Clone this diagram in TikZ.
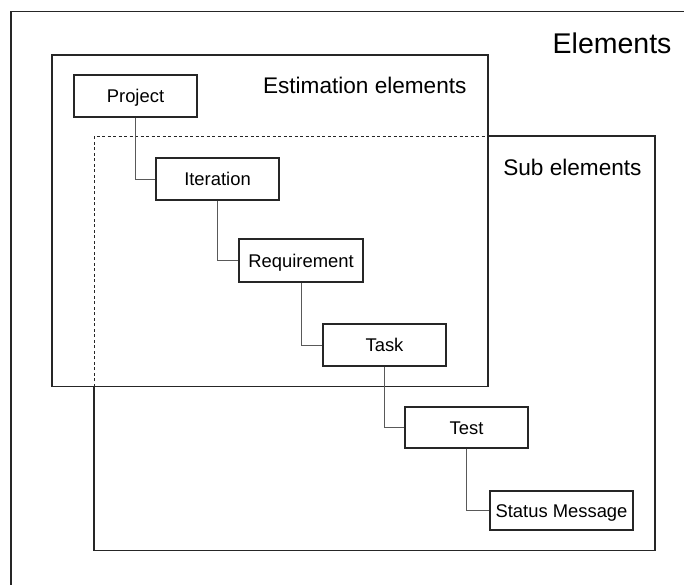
\documentclass[tikz,border=0pt]{standalone}
\usepackage{fontspec}
\setmainfont{Liberation Sans}
\begin{document}
\begin{tikzpicture}[x=1pt,y=-1pt,
  frame/.style={draw=black!85,line width=1.2pt},
  elem/.style={draw=black!85,line width=1.1pt,inner sep=0pt,
    minimum width=123pt,minimum height=42pt,
    font=\fontsize{18.4}{20}\selectfont,text height=13.2pt,text depth=0pt},
  link/.style={draw=black!65,line width=1pt},
  title/.style={anchor=base east,inner sep=0pt,font=\fontsize{22.6}{26}\selectfont}]
\useasboundingbox (0,0) rectangle (684,584);
\begin{scope}
\clip (0,0) rectangle (684,584);
% outer frame, running past the right and bottom edges
\draw[frame] (11,11.5) rectangle (720,620);
\end{scope}
\node[title,font=\fontsize{28.5}{32}\selectfont] (tElements) at (671.7,53) {Elements};

% estimation elements group
\draw[frame] (52,55) rectangle (488,386.5);
\node[title] (tEstimation) at (466.7,93.3) {Estimation elements};

% sub elements group: dashed where it lies inside the estimation group
\draw[frame] (488,136) -- (655,136) -- (655,550.5) -- (94,550.5) -- (94,386.5);
\draw[frame,line width=1pt,dash pattern=on 3pt off 2.5pt] (94,386.5) -- (94,136) -- (488,136);
\node[title] (tSub) at (641.7,175.7) {Sub elements};

% element hierarchy
\node[elem] (project) at (135.5,96) {Project};
\node[elem] (iteration) at (217.5,179) {Iteration};
\node[elem,minimum width=124pt,minimum height=43pt] (requirement) at (301,260.5) {Requirement};
\node[elem] (task) at (384.5,345) {Task};
\node[elem,minimum height=41pt] (test) at (466.5,427.5) {Test};
\node[elem,minimum width=143pt,minimum height=39pt] (status) at (561.5,510.5) {Status Message};

\draw[link] (project.south) |- (iteration.west);
\draw[link] (iteration.south) |- (requirement.west);
\draw[link] (requirement.south) |- (task.west);
\draw[link] (task.south) |- (test.west);
\draw[link] (test.south) |- (status.west);
\end{tikzpicture}
\end{document}
